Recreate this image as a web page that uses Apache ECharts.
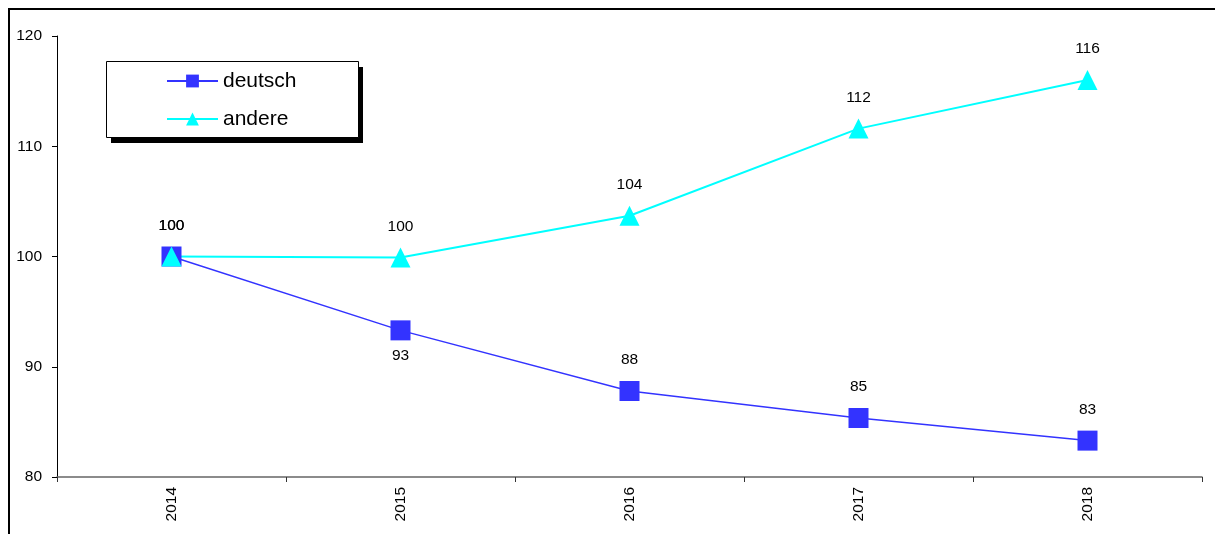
<!DOCTYPE html>
<html>
<head>
<meta charset="utf-8">
<script src="https://cdn.jsdelivr.net/npm/echarts@6/dist/echarts.min.js"></script>
<style>
  html, body { margin: 0; padding: 0; background: #fff; overflow: hidden; }
  #frame { position: absolute; left: 8px; top: 8px; width: 1300px; height: 600px; border: 2px solid #000; box-sizing: border-box; }
  #chart { position: absolute; left: 0; top: 0; width: 1215px; height: 534px; }
</style>
</head>
<body>
<div id="frame"></div>
<div id="chart"></div>
<script>
// Index values (2014 = 100)
const years = ['2014', '2015', '2016', '2017', '2018'];
const deutsch = [100, 93.3, 87.8, 85.35, 83.3];
const andere = [100, 99.9, 103.7, 111.6, 116.0];
const yTicks = [80, 90, 100, 110, 120];

const FONT = 'Arial, "Liberation Sans", sans-serif';
const labelFont = { fontFamily: FONT, fontSize: 15.5, color: '#000' };

const chart = echarts.init(document.getElementById('chart'), null, { renderer: 'canvas' });
chart.setOption({
  animation: false,
  backgroundColor: 'transparent',
  grid: { left: 57, top: 36, right: 13, bottom: 57 },
  // legend box with a hard drop shadow
  graphic: [
    { type: 'rect', z: 90, shape: { x: 111, y: 67, width: 252, height: 76 }, style: { fill: '#000' } },
    { type: 'rect', z: 91, shape: { x: 106.5, y: 61.5, width: 252, height: 76 }, style: { fill: '#fff', stroke: '#000', lineWidth: 1 } }
  ],
  legend: {
    z: 100,
    orient: 'vertical',
    left: 166,
    top: 70,
    padding: 0,
    itemWidth: 51,
    itemHeight: 16,
    itemGap: 16,
    textStyle: { fontFamily: FONT, fontSize: 21, color: '#000', lineHeight: 22 },
    data: ['deutsch', 'andere']
  },
  xAxis: {
    type: 'category',
    data: years,
    boundaryGap: true,
    axisLine: { lineStyle: { color: '#666', width: 1.5 } },
    axisTick: { show: true, length: 5, lineStyle: { color: '#333' } },
    axisLabel: Object.assign({ rotate: 90, margin: 10 }, labelFont),
    splitLine: { show: false }
  },
  yAxis: {
    type: 'value',
    min: yTicks[0],
    max: yTicks[yTicks.length - 1],
    interval: 10,
    axisLine: { show: true, lineStyle: { color: '#000', width: 1 } },
    axisTick: { show: true, length: 5, lineStyle: { color: '#000' } },
    axisLabel: Object.assign({ margin: 15 }, labelFont),
    splitLine: { show: false }
  },
  series: [
    {
      name: 'deutsch',
      type: 'line',
      data: deutsch.map((v, i) => i === 1
        ? { value: v, label: { position: 'bottom', distance: 7 } }
        : v),
      symbol: 'rect',
      symbolSize: 20,
      itemStyle: { color: '#3333FF' },
      lineStyle: { color: '#3333FF', width: 1.5 },
      label: Object.assign({
        show: true, position: 'top', distance: 13,
        formatter: p => Math.round(p.value)
      }, labelFont)
    },
    {
      name: 'andere',
      type: 'line',
      data: andere,
      symbol: 'triangle',
      symbolSize: 20,
      itemStyle: { color: '#00FFFF' },
      lineStyle: { color: '#00FFFF', width: 2 },
      label: Object.assign({
        show: true, position: 'top', distance: 13,
        formatter: p => Math.round(p.value)
      }, labelFont)
    }
  ]
});
</script>
</body>
</html>
